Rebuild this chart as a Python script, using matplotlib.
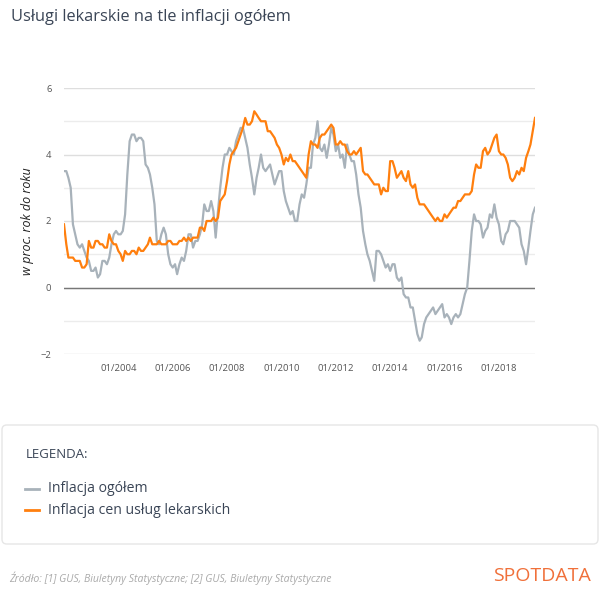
import numpy as np
import pandas as pd
import matplotlib
matplotlib.use("Agg")
import matplotlib.pyplot as plt
from matplotlib.patches import FancyBboxPatch

# monthly y/y inflation, 01/2002 - 05/2019
cpi_total = [
    3.5, 3.5, 3.3, 3.0, 1.9, 1.6, 1.3, 1.2, 1.3, 1.1, 0.9, 0.8,
    0.5, 0.5, 0.6, 0.3, 0.4, 0.8, 0.8, 0.7, 0.9, 1.3, 1.6, 1.7,
    1.6, 1.6, 1.7, 2.2, 3.4, 4.4, 4.6, 4.6, 4.4, 4.5, 4.5, 4.4,
    3.7, 3.6, 3.4, 3.0, 2.5, 1.4, 1.3, 1.6, 1.8, 1.6, 1.0, 0.7,
    0.6, 0.7, 0.4, 0.7, 0.9, 0.8, 1.1, 1.6, 1.6, 1.2, 1.4, 1.4,
    1.6, 1.9, 2.5, 2.3, 2.3, 2.6, 2.3, 1.5, 2.3, 3.0, 3.6, 4.0,
    4.0, 4.2, 4.1, 4.0, 4.4, 4.6, 4.8, 4.8, 4.5, 4.2, 3.7, 3.3,
    2.8, 3.3, 3.6, 4.0, 3.6, 3.5, 3.6, 3.7, 3.4, 3.1, 3.3, 3.5,
    3.5, 2.9, 2.6, 2.4, 2.2, 2.3, 2.0, 2.0, 2.5, 2.8, 2.7, 3.1,
    3.6, 3.6, 4.3, 4.5, 5.0, 4.2, 4.1, 4.3, 3.9, 4.3, 4.8, 4.6,
    4.1, 4.3, 3.9, 4.0, 3.6, 4.3, 4.0, 3.8, 3.8, 3.4, 2.8, 2.4,
    1.7, 1.3, 1.0, 0.8, 0.5, 0.2, 1.1, 1.1, 1.0, 0.8, 0.6, 0.7,
    0.5, 0.7, 0.7, 0.3, 0.2, 0.3, -0.2, -0.3, -0.3, -0.6, -0.6, -1.0,
    -1.4, -1.6, -1.5, -1.1, -0.9, -0.8, -0.7, -0.6, -0.8, -0.7, -0.6, -0.5,
    -0.9, -0.8, -0.9, -1.1, -0.9, -0.8, -0.9, -0.8, -0.5, -0.2, 0.0, 0.8,
    1.7, 2.2, 2.0, 2.0, 1.9, 1.5, 1.7, 1.8, 2.2, 2.1, 2.5, 2.1,
    1.9, 1.4, 1.3, 1.6, 1.7, 2.0, 2.0, 2.0, 1.9, 1.8, 1.3, 1.1,
    0.7, 1.2, 1.7, 2.2, 2.4,
]
medical = [
    1.9, 1.3, 0.9, 0.9, 0.9, 0.8, 0.8, 0.8, 0.6, 0.6, 0.7, 1.4,
    1.2, 1.2, 1.4, 1.4, 1.3, 1.3, 1.2, 1.2, 1.6, 1.4, 1.3, 1.3,
    1.1, 1.0, 0.8, 1.1, 1.0, 1.0, 1.1, 1.1, 1.0, 1.2, 1.1, 1.1,
    1.2, 1.3, 1.5, 1.3, 1.3, 1.3, 1.4, 1.3, 1.3, 1.3, 1.4, 1.4,
    1.3, 1.3, 1.3, 1.4, 1.4, 1.5, 1.4, 1.5, 1.4, 1.5, 1.5, 1.5,
    1.8, 1.8, 1.7, 2.0, 2.0, 2.0, 2.1, 2.0, 2.1, 2.6, 2.7, 2.8,
    3.2, 3.7, 4.0, 4.1, 4.2, 4.4, 4.6, 4.8, 5.1, 4.9, 4.9, 5.0,
    5.3, 5.2, 5.1, 5.0, 5.0, 5.0, 4.7, 4.7, 4.6, 4.5, 4.3, 4.2,
    4.0, 3.7, 3.9, 3.8, 4.0, 3.8, 3.8, 3.7, 3.6, 3.5, 3.4, 3.3,
    4.0, 4.4, 4.3, 4.3, 4.2, 4.5, 4.6, 4.6, 4.7, 4.8, 4.9, 4.8,
    4.3, 4.3, 4.4, 4.3, 4.3, 4.1, 4.0, 4.0, 4.1, 4.0, 4.1, 4.2,
    3.5, 3.4, 3.4, 3.3, 3.2, 3.1, 3.1, 3.1, 2.8, 3.0, 2.9, 2.9,
    3.8, 3.8, 3.6, 3.3, 3.4, 3.5, 3.3, 3.2, 3.5, 3.1, 3.0, 3.1,
    2.7, 2.5, 2.5, 2.5, 2.4, 2.3, 2.2, 2.1, 2.0, 2.1, 2.0, 2.0,
    2.2, 2.1, 2.2, 2.3, 2.4, 2.4, 2.6, 2.6, 2.7, 2.8, 2.8, 2.8,
    2.9, 3.4, 3.7, 3.6, 3.6, 4.1, 4.2, 4.0, 4.1, 4.3, 4.5, 4.6,
    4.1, 4.0, 4.0, 3.9, 3.7, 3.3, 3.2, 3.3, 3.5, 3.4, 3.6, 3.5,
    3.9, 4.1, 4.3, 4.7, 5.1,
]
start_month = "2002-01-01"
tick_years = [2004, 2006, 2008, 2010, 2012, 2014, 2016, 2018]
y_labels = [-2, 0, 2, 4, 6]

title = "Usługi lekarskie na tle inflacji ogółem"
legend_names = ["Inflacja ogółem", "Inflacja cen usług lekarskich"]
source = "Źródło: [1] GUS, Biuletyny Statystyczne; [2] GUS, Biuletyny Statystyczne"

GRAY = "#a8b2ba"
ORANGE = "#ff7f0e"
TEXT = "#3a4556"

plt.rcParams["font.family"] = ["Open Sans", "DejaVu Sans"]

dates = pd.date_range(start_month, periods=len(cpi_total), freq="MS")

fig = plt.figure(figsize=(6.0, 6.04), dpi=100)
ax = fig.add_axes([64 / 600, 1 - 354 / 604, 471 / 600, 266 / 604])

ax.plot(dates, cpi_total, color=GRAY, lw=1.6, zorder=3)
ax.plot(dates, medical, color=ORANGE, lw=1.6, zorder=4)

ax.set_xlim(dates[0], dates[-1])
ax.set_ylim(-2, 6)
ax.set_yticks(y_labels)
ax.set_yticks([-1, 1, 3, 5], minor=True)
ax.set_xticks([pd.Timestamp(f"{y}-01-01") for y in tick_years])
ax.set_xticklabels([f"01/{y}" for y in tick_years])
ax.grid(axis="y", which="major", color="#dedede", lw=1.0, zorder=0)
ax.grid(axis="y", which="minor", color="#ececec", lw=1.0, zorder=0)
ax.axhline(0, color="#777777", lw=1.0, zorder=2)
for s in ax.spines.values():
    s.set_visible(False)
ax.tick_params(axis="both", which="both", length=0, labelsize=6.8, colors="#555555")
ax.tick_params(axis="x", pad=7)
ax.tick_params(axis="y", pad=9)
ax.set_ylabel("w proc. rok do roku", fontsize=9, style="italic", color="#222222", labelpad=5)

fig.text(11 / 600, 1 - 17 / 604, title, fontsize=11.8, color=TEXT, va="center", ha="left")

# legend box
box = FancyBboxPatch((2 / 600, 1 - 544 / 604), 596 / 600, 119 / 604,
                     boxstyle="round,pad=0,rounding_size=0.008",
                     transform=fig.transFigure, facecolor="white",
                     edgecolor="#e6e6e6", lw=1.0)
fig.patches.append(box)
fig.text(26 / 600, 1 - 455 / 604, "LEGENDA:", fontsize=9.5, color=TEXT, va="center")
for i, (name, col) in enumerate(zip(legend_names, [GRAY, ORANGE])):
    yy = 1 - (489 + 21 * i) / 604
    fig.add_artist(plt.Line2D([25 / 600, 39 / 600], [yy, yy], color=col, lw=2,
                              transform=fig.transFigure))
    fig.text(48 / 600, yy, name, fontsize=10.1, color=TEXT, va="center")

fig.text(9 / 600, 1 - 578 / 604, source, fontsize=7.6, style="italic", color="#aaaaaa", va="center")
fig.text(591 / 600, 1 - 576 / 604, "SPOTDATA", fontsize=14, color="#f0703a", va="center", ha="right")

fig.savefig("out.png", dpi=100, facecolor="white")
